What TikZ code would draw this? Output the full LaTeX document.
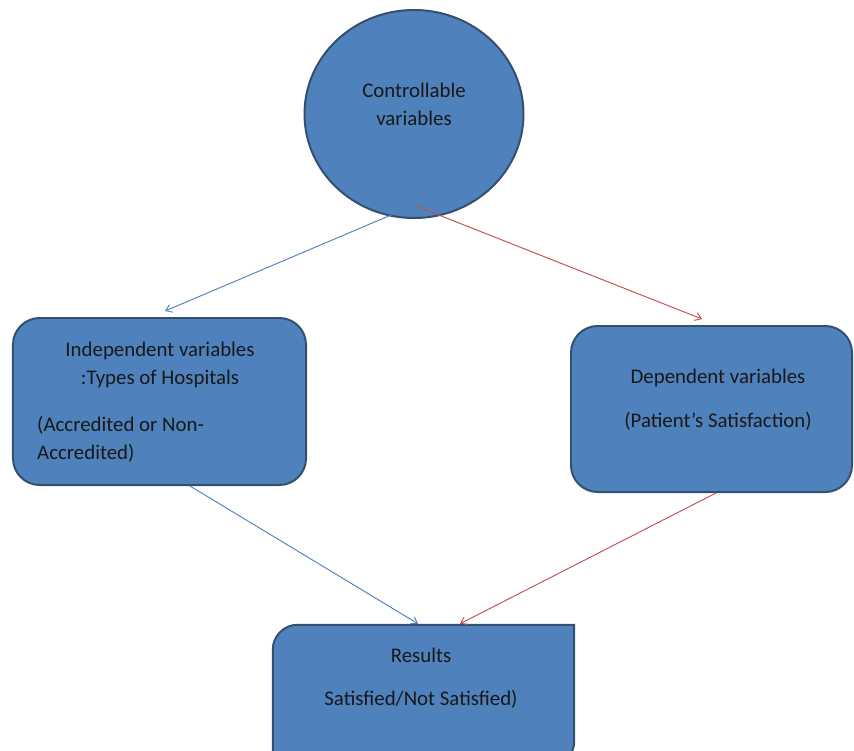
\documentclass[tikz,border=0pt]{standalone}
\usepackage{fontspec}
\setmainfont{Carlito}
\usetikzlibrary{arrows.meta,calc,positioning,shapes.geometric}
\definecolor{shapefill}{HTML}{4F81BD}
\definecolor{shapeline}{HTML}{34506F}
\definecolor{arrblue}{HTML}{4F81BD}
\definecolor{arrred}{HTML}{C0504D}
\tikzset{link/.style={line width=0.8pt, -{Straight Barb[length=5pt,width=7pt]}},
  varbox/.style={draw=shapeline, line width=1.7pt, fill=shapefill, rounded corners=0.8cm},
  lbl/.style={inner sep=0pt, font=\fontsize{17.8}{23.8}\selectfont, text=black!90}}

\begin{document}
\begin{tikzpicture}[x=0.03cm, y=-0.03cm]
  \useasboundingbox (0,0) rectangle (854,751);
  % controllable variables
  \node[ellipse, draw=shapeline, line width=1.7pt, fill=shapefill, minimum width=6.57cm, minimum height=6.24cm] (ctrl) at (414,114) {};
  \node[lbl, align=center] (ctrltxt) at (414,104.5) {Controllable\\variables};
  % independent / dependent variables
  \node[varbox, minimum width=8.79cm, minimum height=5.01cm] (indep) at (159.5,401.5) {};
  \node[lbl, align=center] (indeptxt) at (160,365) {Independent variables\\:Types of Hospitals};
  \node[lbl, align=left, anchor=west] (indepnote) at (37,439) {(Accredited or Non-\\Accredited)};
  \node[varbox, minimum width=8.43cm, minimum height=4.98cm] (dep) at (711.5,409) {};
  \node[lbl, align=center] (deptxt) at (718,400) {Dependent variables\\[13.6pt](Patient’s Satisfaction)};
  % results
  \node[minimum width=9.03cm, minimum height=4.23cm, inner sep=0pt] (res) at (423.5,695.5) {};
  \draw[draw=shapeline, line width=1.7pt, fill=shapefill] (res.south west) -- ([yshift=-0.75cm]res.north west)
    arc[start angle=180, end angle=90, radius=0.75cm] -- (res.north east)
    -- ([yshift=0.75cm]res.south east) arc[start angle=0, end angle=-90, radius=0.75cm] -- cycle;
  \node[lbl, align=center] (restxt) at (421,678.5) {Results\\[13pt]Satisfied/Not Satisfied)};
  % links
  \coordinate (c1) at ($(ctrl.center)+(-4,93)$);
  \coordinate (c2) at ($(ctrl.center)+(2,92)$);
  \draw[link, arrblue] (c1) -- ($(indep.north)+(5.5,-6)$);
  \draw[link, arrred] (c2) -- ($(dep.north)+(-9.5,-6)$);
  \draw[link, arrblue] ($(indep.south)+(30.5,0)$) -- ($(res.north)+(-5.5,-1)$);
  \draw[link, arrred] ($(dep.south)+(4.5,0)$) -- ($(res.north)+(36.5,-1)$);
\end{tikzpicture}
\end{document}
